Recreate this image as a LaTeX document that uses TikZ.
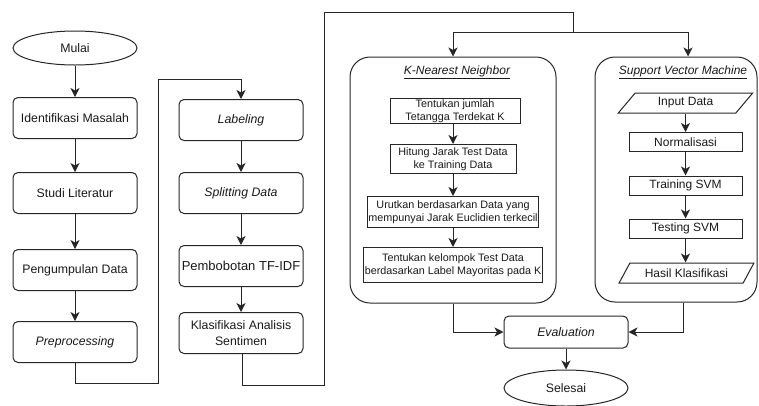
\documentclass[tikz,border=0pt]{standalone}
\usepackage{fontspec}
\setmainfont{Liberation Sans}
\usetikzlibrary{shapes.geometric,arrows.meta,positioning}
\tikzset{
  every node/.style={text=black!90},
  line/.style={draw=black!85, line width=1pt},
  arr/.style={line, -{Stealth[length=9pt,width=9pt,inset=2.5pt]}},
  proc/.style={draw=black!85, line width=1pt, rectangle, rounded corners=5pt,
    minimum width=124pt, minimum height=41pt, align=center, inner sep=1pt,
    font=\fontsize{12.3}{16}\selectfont},
  term/.style={draw=black!85, line width=1pt, ellipse, minimum width=124pt,
    minimum height=34pt, font=\fontsize{12.3}{15}\selectfont},
  grp/.style={draw=black!85, line width=1pt, rectangle, rounded corners=20pt},
  gtitle/.style={font=\fontsize{12}{14}\selectfont\itshape},
  kbox/.style={draw=black!85, line width=1pt, rectangle, align=center, inner sep=1pt,
    font=\fontsize{10.8}{12.5}\selectfont},
  sbox/.style={draw=black!85, line width=1pt, rectangle, align=center, inner sep=1pt,
    minimum width=113pt, minimum height=19pt, font=\fontsize{12}{14}\selectfont},
  io/.style={draw=black!85, line width=1pt, trapezium, trapezium left angle=53,
    trapezium right angle=127, trapezium stretches=true, minimum width=135pt,
    minimum height=20pt, inner sep=1pt, font=\fontsize{12}{14}\selectfont},
}
\begin{document}
\begin{tikzpicture}[x=1pt,y=-1pt]
\useasboundingbox (0,0) rectangle (759,405);
% column 1
\node[term] (mulai) at (75,48) {Mulai};
\node[proc] (idm) at (75,118) {Identifikasi Masalah};
\node[proc] (stl) at (75,193) {Studi Literatur};
\node[proc] (pgd) at (75,270) {Pengumpulan Data};
\node[proc] (pre) at (75,342) {\itshape Preprocessing};
% column 2
\node[proc] (lab) at (241,120) {\itshape Labeling};
\node[proc] (spl) at (241,193) {\itshape Splitting Data};
\node[proc, font=\fontsize{13}{16}\selectfont] (tfidf) at (241,266) {Pembobotan TF-IDF};
\node[proc] (kas) at (241,333) {Klasifikasi Analisis\\Sentimen};
% groups
\node[grp, minimum width=206pt, minimum height=246pt] (knn) at (453,180) {};
\node[grp, minimum width=162pt, minimum height=245pt] (svm) at (676,179.5) {};
\node[gtitle] (knnt) at (457,72) {\underline{K-Nearest Neighbor}};
\node[gtitle] (svmt) at (683,72) {\underline{Support Vector Machine}};
% KNN steps
\node[kbox, minimum width=130pt, minimum height=25pt] (k1) at (455,111) {Tentukan jumlah\\Tetangga Terdekat K};
\node[kbox, minimum width=126pt, minimum height=29pt] (k2) at (453,159) {Hitung Jarak Test Data\\ke Training Data};
\node[kbox, minimum width=168pt, minimum height=31pt] (k3) at (453,212) {Urutkan berdasarkan Data yang\\mempunyai Jarak Euclidien terkecil};
\node[kbox, minimum width=178pt, minimum height=35pt] (k4) at (453,265) {Tentukan kelompok Test Data\\berdasarkan Label Mayoritas pada K};
% SVM steps
\node[io] (s1) at (685.5,103) {Input Data};
\node[sbox] (s2) at (685.5,142) {Normalisasi};
\node[sbox] (s3) at (685.5,185.5) {Training SVM};
\node[sbox] (s4) at (685.5,228.5) {Testing SVM};
\node[io] (s5) at (686.5,273) {Hasil Klasifikasi};
% end
\node[proc, minimum height=32pt] (eval) at (566,332) {\itshape Evaluation};
\node[term, minimum height=36pt] (sel) at (566,388) {Selesai};
% coordinates
\coordinate (c1) at (75,383);
\coordinate (c2) at (158,383);
\coordinate (c3) at (158,79);
\coordinate (c4) at (242,385);
\coordinate (c5) at (324,385);
\coordinate (c6) at (324,12);
\coordinate (c7) at (573,12);
\coordinate (c8) at (573,32);
\coordinate (c9) at (453,32);
\coordinate (c10) at (688,32);
\coordinate (c11) at (683,303);
% arrows column 1
\draw[arr] (mulai) -- (idm);
\draw[arr] (idm) -- (stl);
\draw[arr] (stl) -- (pgd);
\draw[arr] (pgd) -- (pre);
\draw[arr] (pre.south) -- (c1) -- (c2) -- (c3) -| (lab.north);
% column 2
\draw[arr] (lab) -- (spl);
\draw[arr] (spl) -- (tfidf);
\draw[arr] (tfidf) -- (kas);
\draw[line] (kas.south -| c4) -- (c4) -- (c5) -- (c6) -- (c7) -- (c8);
\draw[arr] (c8) -- (c9) -- (knn.north -| c9);
\draw[arr] (c8) -- (c10) -- (svm.north -| c10);
% KNN
\draw[arr] (k1.south -| k2.north) -- (k2);
\draw[arr] (k2) -- (k3);
\draw[arr] (k3) -- (k4);
% SVM
\draw[arr] (s1.south -| s2.north) -- (s2);
\draw[arr] (s2) -- (s3);
\draw[arr] (s3) -- (s4);
\draw[arr] (s4.south) -- (s4.south |- s5.north);
% to evaluation
\draw[arr] (knn.south) |- (eval.west);
\draw[arr] (c11) |- (eval.east);
\draw[arr] (eval) -- (sel);
\end{tikzpicture}
\end{document}
